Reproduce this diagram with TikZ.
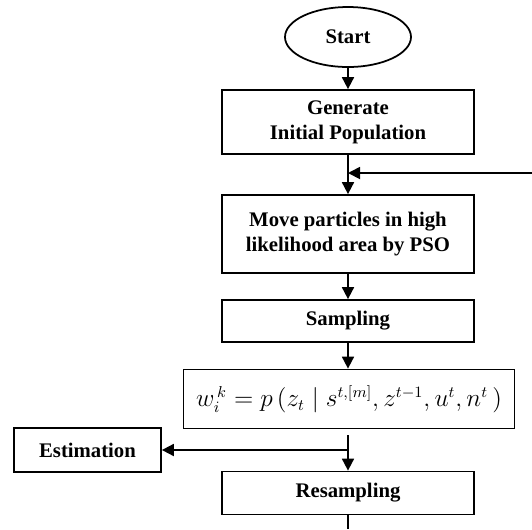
\documentclass[tikz,border=0pt]{standalone}
\usepackage{fontspec}
\setmainfont{Liberation Serif}
\usepackage{xcolor}
\usepackage{tikz}
\usetikzlibrary{shapes,arrows.meta,positioning}

\tikzset{
    stepbox/.style={
        draw,
        line width=1pt,
        rectangle,
        align=center,
        font=\fontsize{11.8}{14.2}\selectfont\bfseries,
        minimum width=5.04cm
    },
    flowline/.style={
        line width=1pt,
        -{Triangle[length=0.24cm,width=0.24cm]}
    }
}

\begin{document}
\begin{tikzpicture}
                \useasboundingbox (0,0) rectangle (10.64,-10.58);

                \node[
                    draw,
                    line width=1pt,
                    ellipse,
                    font=\fontsize{11.8}{14.2}\selectfont\bfseries,
                    minimum width=2.52cm,
                    minimum height=1.2cm
                    ] (start) at (6.96,-0.74) {Start};

                \node[
                    stepbox,
                    minimum height=1.28cm
                    ] (gen) at (6.96,-2.44) {Generate\\ Initial Population};

                \node[
                    stepbox,
                    minimum height=1.56cm
                    ] (move) at (6.96,-4.68) {Move particles in high\\ likelihood area by PSO};

                \node[
                    stepbox,
                    minimum height=0.84cm
                    ] (samp) at (6.96,-6.42) {Sampling};

                \node[
                    stepbox,
                    font=\fontsize{13.5}{16}\selectfont,
                    minimum width=6.62cm,
                    minimum height=1.18cm
                    ] (weight) at (6.98,-7.98) {$w_i^{\,k} = p\,(z_t \mid s^{t,[m]}, z^{t-1}, u^t, n^t\,)$};

                \node[
                    stepbox,
                    minimum width=2.94cm,
                    minimum height=0.88cm
                    ] (est) at (1.75,-9.0) {Estimation};

                \node[
                    stepbox,
                    minimum height=0.86cm
                    ] (res) at (6.96,-9.86) {Resampling};

                % loop back and branch points
                \coordinate (back) at (10.64,-3.46);
                \coordinate (split) at (6.96,-8.7);
                \coordinate (out) at (6.96,-10.58);

                \draw[flowline] (start) -- (gen);
                \draw[flowline] (gen) -- (move);
                \draw[flowline] (back) -- (back -| gen.south);
                \draw[flowline] (move) -- (samp);
                \draw[flowline] (samp) -- (samp |- weight.north);
                \draw[flowline] (split) -- (res);
                \draw[flowline] (split |- est) -- (est);
                \draw[line width=1pt] (res) -- (out);

            \end{tikzpicture}
\end{document}
